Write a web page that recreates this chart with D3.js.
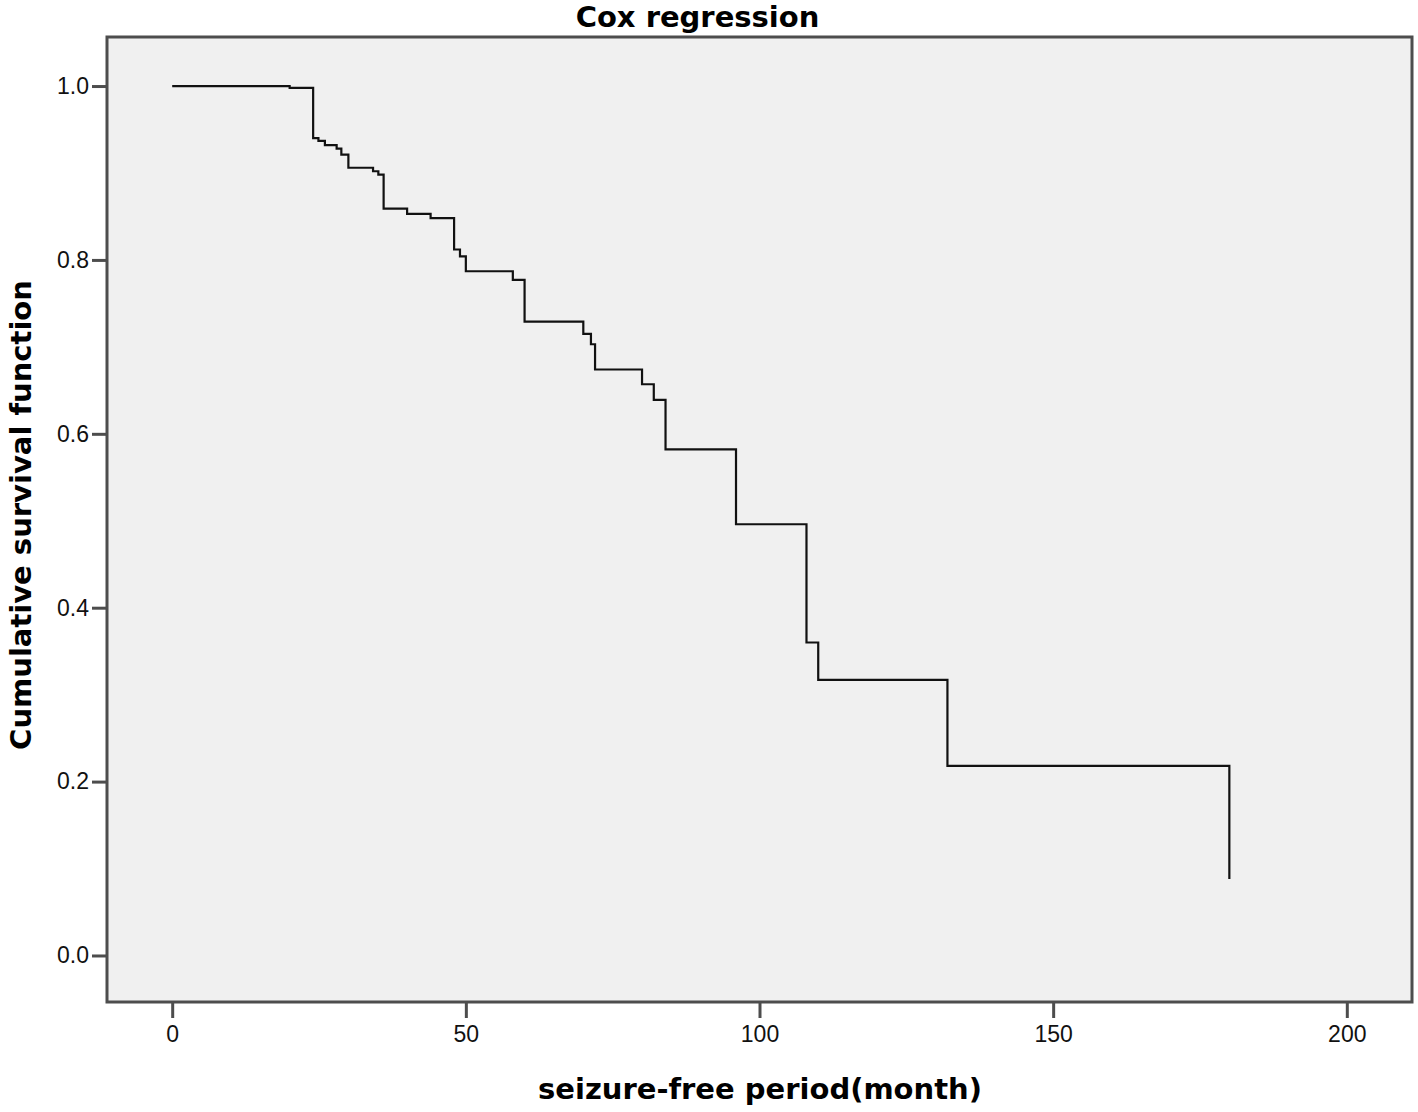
<!DOCTYPE html>
<html>
<head>
<meta charset="utf-8">
<script src="https://cdn.jsdelivr.net/npm/d3@7"></script>
<style>
  html, body { margin: 0; padding: 0; background: #fff; }
  svg { display: block; }
</style>
</head>
<body>
<div id="chart"></div>
<script>
(function(){
// survival curve
const months   = [0, 20, 24, 24.9, 26, 28, 28.8, 30, 34.2, 35.1, 36, 40, 44, 48, 49, 50, 58, 60, 70, 71.3, 72, 80, 82, 84, 96, 108, 110, 132, 180];
const survival = [1.0, 0.998, 0.940, 0.937, 0.932, 0.928, 0.921, 0.906, 0.902, 0.898, 0.859, 0.853, 0.848, 0.812, 0.804, 0.787, 0.777, 0.729, 0.715, 0.703, 0.674, 0.657, 0.639, 0.582, 0.496, 0.360, 0.317, 0.218, 0.088];
const xTicks = [0, 50, 100, 150, 200];
const yTicks = [0.0, 0.2, 0.4, 0.6, 0.8, 1.0];

const W = 1418, H = 1112;
const box = { left: 107, right: 1412, top: 37, bottom: 1002 };

const svg = d3.select("#chart").append("svg")
    .attr("width", W)
    .attr("height", H);

// axis domains padded so that 0..200 and 0..1 sit inside the frame
const x = d3.scaleLinear().domain([-11.1, 211.1]).range([box.left, box.right]);
const y = d3.scaleLinear().domain([-0.0535, 1.0564]).range([box.bottom, box.top]);

// plot background
svg.append("rect")
    .attr("x", box.left).attr("y", box.top)
    .attr("width", box.right - box.left)
    .attr("height", box.bottom - box.top)
    .attr("fill", "#f0f0f0");

// the step line
const pts = months.map((m, i) => [m, survival[i]]);
const line = d3.line()
    .x(d => x(d[0]))
    .y(d => y(d[1]))
    .curve(d3.curveStepAfter);

svg.append("path")
    .datum(pts)
    .attr("d", line)
    .attr("fill", "none")
    .attr("stroke", "#111")
    .attr("stroke-width", 2.2);

// frame
svg.append("rect")
    .attr("x", box.left).attr("y", box.top)
    .attr("width", box.right - box.left)
    .attr("height", box.bottom - box.top)
    .attr("fill", "none")
    .attr("stroke", "#4d4d4d")
    .attr("stroke-width", 3);

// y axis
const yAxis = svg.append("g")
    .attr("transform", "translate(" + box.left + ",0)")
    .call(d3.axisLeft(y).tickValues(yTicks).tickFormat(d3.format(".1f")).tickSize(15).tickPadding(3));
yAxis.select(".domain").remove();
yAxis.selectAll(".tick line").attr("stroke", "#4d4d4d").attr("stroke-width", 3);
yAxis.selectAll(".tick text")
    .attr("fill", "#111")
    .style("font-family", "'Liberation Sans', Arial, sans-serif")
    .style("font-size", "23px");

// x axis
const xAxis = svg.append("g")
    .attr("transform", "translate(0," + box.bottom + ")")
    .call(d3.axisBottom(x).tickValues(xTicks).tickFormat(d3.format("d")).tickSize(16).tickPadding(8));
xAxis.select(".domain").remove();
xAxis.selectAll(".tick line").attr("stroke", "#4d4d4d").attr("stroke-width", 3);
xAxis.selectAll(".tick text")
    .attr("fill", "#111")
    .style("font-family", "'Liberation Sans', Arial, sans-serif")
    .style("font-size", "23px");

// titles
const boldFont = "'DejaVu Sans', Verdana, sans-serif";
svg.append("text")
    .attr("x", (575 + 820) / 2).attr("y", 27)
    .attr("text-anchor", "middle")
    .style("font-family", boldFont)
    .style("font-weight", "bold")
    .style("font-size", "29px")
    .attr("fill", "#000")
    .text("Cox regression");

svg.append("text")
    .attr("x", (538 + 982) / 2).attr("y", 1099)
    .attr("text-anchor", "middle")
    .style("font-family", boldFont)
    .style("font-weight", "bold")
    .style("font-size", "29px")
    .attr("fill", "#000")
    .text("seizure-free period(month)");

svg.append("text")
    .attr("transform", "translate(31," + 515 + ") rotate(-90)")
    .attr("text-anchor", "middle")
    .style("font-family", boldFont)
    .style("font-weight", "bold")
    .style("font-size", "29px")
    .attr("fill", "#000")
    .text("Cumulative survival function");
})();
</script>
</body>
</html>
